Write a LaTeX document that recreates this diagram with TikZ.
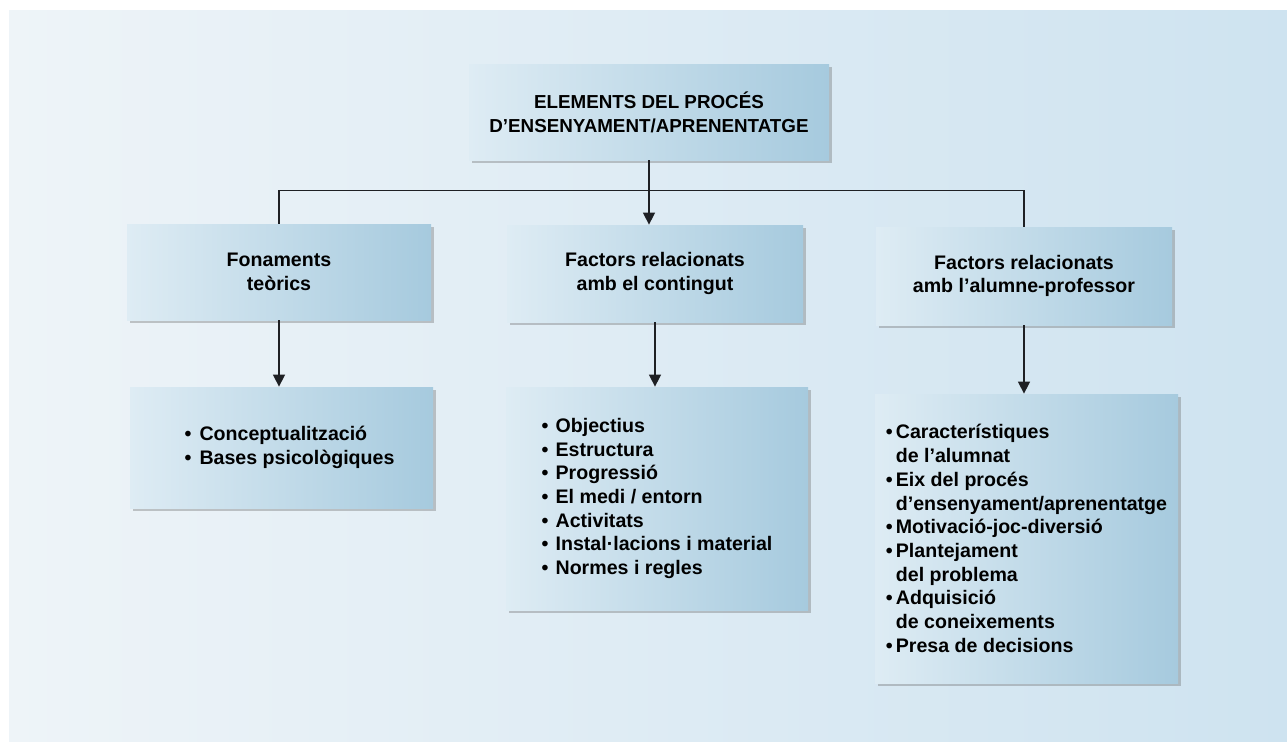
\documentclass[tikz,border=0pt]{standalone}
\usepackage{fontspec}
\setmainfont{Liberation Sans}
\usepackage{tikz}
\usetikzlibrary{positioning, calc, shadows, arrows.meta}
\definecolor{boxL}{RGB}{222,236,244}
\definecolor{boxR}{RGB}{166,202,222}
\definecolor{bgL}{RGB}{238,244,248}
\definecolor{bgR}{RGB}{206,227,240}
\definecolor{lineC}{RGB}{30,32,36}
\tikzstyle{Arrow} = [
    line width=0.75pt, draw=lineC,
    -{Triangle[width=6pt, length=6pt]}
]
\tikzstyle{Branch} = [line width=0.75pt, draw=lineC]
\newcommand{\bul}[1]{\makebox[#1][l]{\textbullet}}

\begin{document}
\begin{tikzpicture}[x=0.5pt, y=-0.5pt,
box/.style={
    rectangle, inner sep=0pt,
    left color=boxL, right color=boxR,
    drop shadow={shadow xshift=1.6pt, shadow yshift=-1.6pt, fill=black!60, opacity=0.35},
    font=\bfseries\fontsize{9.8}{11.85}\selectfont,
    align=center
    },
list/.style={box, align=left}
]

\useasboundingbox (0,0) rectangle (1287,741);
\fill[white] (0,0) rectangle (1287,741);
\shade[left color=bgL, right color=bgR] (9,10) rectangle (1287,741);

\node[box, minimum width=180pt, minimum height=48pt,
      font=\bfseries\fontsize{9.4}{11.85}\selectfont] (top) at (649,112)
    {ELEMENTS DEL PROCÉS\\D’ENSENYAMENT/APRENENTATGE};

\node[box, minimum width=152pt, minimum height=48pt] (fon) at (279,272)
    {Fonaments\\teòrics};
\node[box, minimum width=148pt, minimum height=48.5pt] (fac) at (655,273.5)
    {Factors relacionats\\amb el contingut};
\node[box, minimum width=148pt, minimum height=49pt] (alu) at (1024,276)
    {Factors relacionats\\amb l’alumne-professor};

\node[list, minimum width=151.5pt, minimum height=60.5pt] (con) at (281.5,447.5) {
    \hspace*{8pt}\bul{7.5pt}Conceptualització\\
    \hspace*{8pt}\bul{7.5pt}Bases psicològiques
};
\node[list, minimum width=151pt, minimum height=111.5pt] (cnt) at (657,498.5) {
    \bul{7pt}Objectius\\
    \bul{7pt}Estructura\\
    \bul{7pt}Progressió\\
    \bul{7pt}El medi / entorn\\
    \bul{7pt}Activitats\\
    \bul{7pt}Instal·lacions i material\\
    \bul{7pt}Normes i regles
};
\node[list, minimum width=151.5pt, minimum height=144.5pt] (alm) at (1026.5,538.5) {
    \bul{5pt}Característiques\\
    \hspace*{5pt}de l’alumnat\\
    \bul{5pt}Eix del procés\\
    \hspace*{5pt}d’ensenyament/aprenentatge\\
    \bul{5pt}Motivació-joc-diversió\\
    \bul{5pt}Plantejament\\
    \hspace*{5pt}del problema\\
    \bul{5pt}Adquisició\\
    \hspace*{5pt}de coneixements\\
    \bul{5pt}Presa de decisions
};

\coordinate (split) at ($(top.south)+(0,30)$);
\draw[Branch] (fon.north) |- (split) -| (alu.north);
\draw[Arrow] (top.south) -- (top.south |- fac.north);

\draw[Arrow] (fon.south) -- (fon.south |- con.north);
\draw[Arrow] (fac.south) -- (fac.south |- cnt.north);
\draw[Arrow] (alu.south) -- (alu.south |- alm.north);

\end{tikzpicture}
\end{document}
